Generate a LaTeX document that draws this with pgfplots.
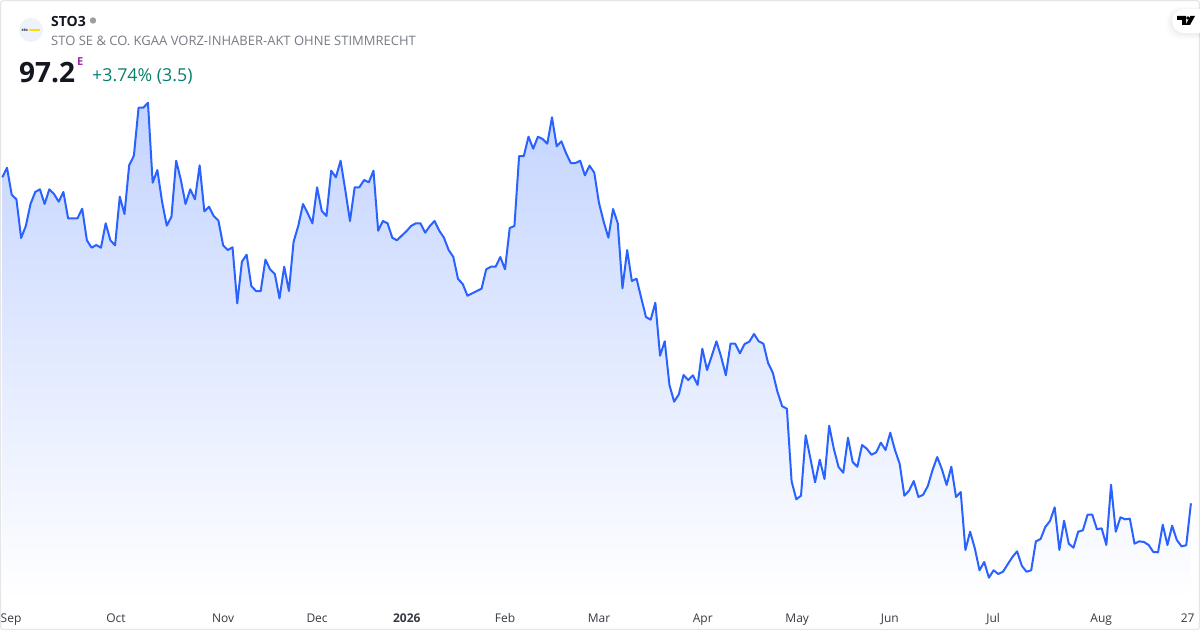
\documentclass[border=0pt]{standalone}
\usepackage{pgfplots}
\usepackage{pgfplotstable}
\usepackage{fontspec}
\setmainfont{Open Sans}
\pgfplotsset{compat=1.18}
\definecolor{tvblue}{HTML}{2962FF}
\definecolor{tvtop}{HTML}{C4D4FF}
\definecolor{tvframe}{HTML}{E6E6E6}
\definecolor{tvlogo}{HTML}{EFF2FA}
\definecolor{tvtext}{HTML}{131722}
\definecolor{tvgrey}{HTML}{787B86}
\definecolor{tvgreen}{HTML}{08806C}
\definecolor{tvpurple}{HTML}{9C27B0}
\newcommand{\fs}[1]{\fontsize{#1bp}{#1bp}\selectfont}
\pgfplotstableread{
y
177.3
167.7
194.7
199.3
238
226
204
192
189.3
204
189.3
194
201.7
192
218.3
218.3
218.3
208.7
240.3
247.7
245
247.7
223.3
240.3
245.3
196.7
214
165.3
155.7
107.7
107.7
102.7
182.7
170
201.7
225.7
216.7
160.7
180
204
189.3
199.3
165.3
211.3
206.7
216
220.7
245.3
250
247.3
303.3
261.7
254.7
286
291
291
259.7
269.3
274
298.3
266.7
291
241.7
225.7
204
213.3
223.3
187.3
211
216
170.7
177.3
160.7
190
221
187.3
187.3
180
182.3
170.7
230.7
221
223.3
237.7
240.3
235.7
231.3
226
223.3
223.3
232.7
226
221
230.7
237.7
250
257
279
284
295.7
293.3
291
288.7
269.3
266.7
266.7
257
269.3
228
226
156
156
136.7
148.7
136.7
139
143.7
117.3
146.3
141.3
153.3
163
163
160.7
175.3
165.7
172.7
203
221.7
237.7
209
223.3
288.3
250
281
278.7
298
317
319.7
302.7
355.7
341.3
385
401.7
394.3
375
380
375.3
385
348.7
370
356
341.3
356.7
375.3
343.7
343.7
353.3
344
341.7
334
341.3
343.7
363
372.7
392
406.3
408.7
481.3
499.3
495.7
435.3
458.3
482.3
459.7
479
425.7
449
467
472.7
437.7
462
466.7
445
448.7
454.7
452.3
442.7
450
432.7
450
463.7
495.7
490.7
481
497
494.7
486
470
457
469.3
485
466.7
497
492
550
531.7
548.3
570.3
562
577.7
570.3
574
571.7
564.3
557
551.3
565.7
571.7
570.3
541.3
539
527
521
507.3
550
520.7
543.7
547.7
531.7
530.3
514.7
514.7
529.3
528.3
545
484.7
531.7
517.3
519.3
518.7
543.7
541.3
542
545
552
552.3
524.7
545
525.7
540
546.3
545.3
503.3
}\pricetable
\begin{document}
\begin{tikzpicture}
\useasboundingbox (0,0) rectangle (1200bp,630bp);
\fill[white] (0,0) rectangle (1200bp,630bp);
\begin{axis}[
  at={(0,0)}, anchor=south west,
  width=1200bp, height=630bp, scale only axis,
  xmin=-0.496, xmax=254.93,
  ymin=0, ymax=630, y dir=reverse,
  axis line style={draw=none},
  major tick length=0pt,
  ytick=\empty,
  xtick={1.85,24.2,47,67,86.1,107,127,149.1,169.2,188.9,210.9,233.9,252.3},
  xticklabels={Sep,Oct,Nov,Dec,\textbf{2026},Feb,Mar,Apr,May,Jun,Jul,Aug,27},
  xticklabel style={font=\fs{12}, text=tvtext!85!white, anchor=base, yshift=8bp},
  clip=false,
]
\addplot[draw=none, top color=tvtop, bottom color=white, forget plot]
  table[x expr=\coordindex, y=y] {\pricetable}
  -- (axis cs:253,600) -- (axis cs:0,600) -- cycle;
\addplot[tvblue, line width=2bp, line join=round, no marks]
  table[x expr=\coordindex, y=y] {\pricetable};
\end{axis}
\begin{scope}[x=1bp,y=-1bp,shift={(0,630bp)}]
  % frame
  \draw[tvframe, line width=1.2bp, rounded corners=3bp] (0.5,0.5) rectangle (1199.5,629.5);
  % logo
  \fill[tvlogo] (31,30) circle (12);
  \fill[yellow!80!orange] (28.5,29) rectangle (40,31);
  \node[anchor=base west, inner sep=0, text=tvtext] at (21.5,31.5) {\fontsize{4bp}{4bp}\selectfont\bfseries sto};
  % title
  \node[anchor=base west, inner sep=0, text=tvtext] at (51,27) {\fs{14}\bfseries STO3};
  \fill[black!38] (93,20.5) circle (3.2);
  \node[anchor=base west, inner sep=0, text=tvgrey] at (51,46) {\fs{13}STO SE \& CO. KGAA VORZ-INHABER-AKT OHNE STIMMRECHT};
  \node[anchor=base west, inner sep=0, text=tvtext] at (19,82.5) {\fs{28}\bfseries 97.2};
  \node[anchor=base west, inner sep=0, text=tvpurple] at (77,66) {\fs{11}\bfseries E};
  \node[anchor=base west, inner sep=0, text=tvgreen] at (92,81.5) {\fs{17.8}+3.74\% (3.5)};
  % TV badge
  \foreach \o/\w in {6/0.012,4/0.018,2/0.025}{
    \fill[black,opacity=\w, rounded corners=14bp] (1172-\o,10-\o/2) rectangle (1240,34+\o);
  }
  \fill[white, rounded corners=12bp] (1172,9) rectangle (1240,33);
  \fill[black] (1177,16) -- (1186,16) -- (1186,25) -- (1182,25) -- (1182,20) -- (1177,20) -- cycle;
  \fill[black] (1188,18) circle (1.9);
  \fill[black] (1190.5,16) -- (1195,16) -- (1190,25) -- (1185.5,25) -- cycle;
\end{scope}
\end{tikzpicture}
\end{document}
